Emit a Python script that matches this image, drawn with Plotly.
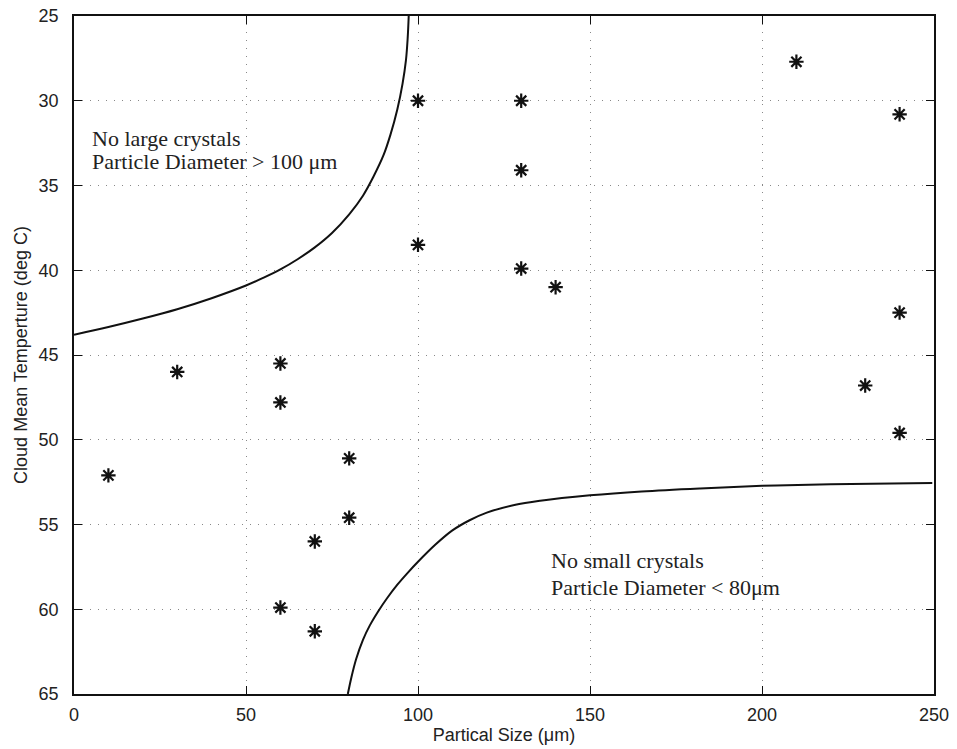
import plotly.graph_objects as go

# Observed points
size_um = [10, 30, 60, 60, 60, 70, 70, 80, 80, 100, 100, 130, 130, 130, 140, 210, 230, 240, 240, 240]
temp_c = [52.1, 46.0, 45.5, 47.8, 59.9, 56.0, 61.3, 51.1, 54.6, 30.0, 38.5, 30.0, 34.1, 39.9, 41.0, 27.7, 46.8, 30.8, 42.5, 49.6]

# Boundary curves
upper_x = [0, 10, 20, 30, 40, 50, 55, 60, 65, 70, 75, 80, 84, 87, 90, 92, 94, 95.5, 96.5, 97.0, 97.3]
upper_y = [43.8, 43.35, 42.85, 42.3, 41.65, 40.9, 40.45, 39.95, 39.35, 38.65, 37.8, 36.7, 35.6, 34.5, 33.2,
           32.0, 30.5, 29.0, 27.6, 26.3, 25.0]

lower_x = [79.6, 80.6, 82, 84, 86, 88.5, 91, 94, 97, 100, 105, 110, 115, 120, 128, 135.5, 150, 165, 182, 200,
           220, 249.5]
lower_y = [65.0, 64.05, 62.95, 61.8, 60.95, 60.1, 59.35, 58.55, 57.85, 57.2, 56.2, 55.35, 54.75, 54.3, 53.85,
           53.6, 53.28, 53.05, 52.87, 52.72, 52.62, 52.55]

x_ticks = [0, 50, 100, 150, 200, 250]
y_ticks = [25, 30, 35, 40, 45, 50, 55, 60, 65]

fig = go.Figure()
fig.add_trace(go.Scatter(x=upper_x, y=upper_y, mode="lines",
                         line=dict(color="#111", width=2, shape="spline", smoothing=1.0), hoverinfo="skip"))
fig.add_trace(go.Scatter(x=lower_x, y=lower_y, mode="lines",
                         line=dict(color="#111", width=2, shape="spline", smoothing=1.0), hoverinfo="skip"))
fig.add_trace(go.Scatter(x=size_um, y=temp_c, mode="markers",
                         marker=dict(symbol="asterisk-open", size=12, color="#111",
                                     line=dict(color="#111", width=2.2))))

serif = dict(family="Liberation Serif, Times New Roman, serif", size=22, color="#222")
notes = [
    (4.6, 32.2, "No large crystals"),
    (4.6, 33.6, "Particle Diameter > 100 μm"),
    (138.2, 57.1, "No small crystals"),
    (138.2, 58.7, "Particle Diameter < 80μm"),
]
for x, y, t in notes:
    fig.add_annotation(x=x, y=y, text=t, showarrow=False, xanchor="left", yanchor="middle", font=serif)

sans = "Liberation Sans, Arial, sans-serif"
axis_common = dict(showline=True, linecolor="#111", linewidth=1.5, mirror="ticks",
                   ticks="inside", ticklen=8, tickcolor="#111", tickwidth=1,
                   showgrid=True, gridcolor="#888", griddash="1px,7px", gridwidth=1.2,
                   zeroline=False, automargin=False,
                   tickfont=dict(family=sans, size=18, color="#222"))

fig.update_xaxes(range=[0, 250], tickvals=x_ticks, ticklabelstandoff=4,
                 title=dict(text="Partical Size (μm)", standoff=4, font=dict(family=sans, size=18, color="#222")),
                 **axis_common)
fig.update_yaxes(range=[65, 25], tickvals=y_ticks, ticklabelstandoff=10,
                 title=dict(text="Cloud Mean Temperture (deg C)", standoff=6, font=dict(family=sans, size=18, color="#222")),
                 **axis_common)

fig.update_layout(width=957, height=749, margin=dict(l=74, r=23, t=16, b=55),
                  plot_bgcolor="white", paper_bgcolor="white", showlegend=False)

fig.write_html("out.html")
